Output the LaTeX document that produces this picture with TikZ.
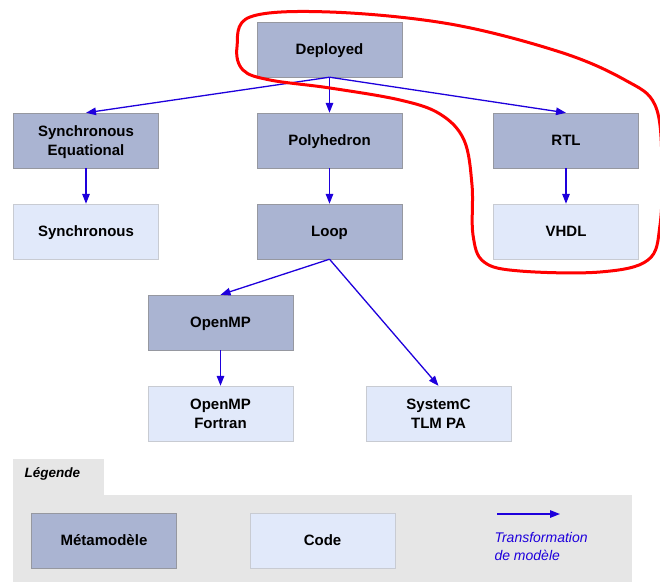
\documentclass[tikz,border=0pt]{standalone}
\usepackage{fontspec}
\setmainfont{Liberation Sans}
\usetikzlibrary{arrows.meta}
\definecolor{metafill}{RGB}{170,180,210}
\definecolor{metaline}{RGB}{150,152,160}
\definecolor{codefill}{RGB}{225,233,250}
\definecolor{codeline}{RGB}{200,203,210}
\definecolor{legendgray}{RGB}{230,230,230}
\definecolor{tblue}{RGB}{30,0,220}

\tikzset{
  meta/.style={draw=metaline, fill=metafill, minimum width=145pt, minimum height=55pt,
    align=center, font=\fontsize{15}{19}\selectfont\bfseries, inner sep=0pt,
    text height=10.8pt, text depth=0pt},
  code/.style={meta, draw=codeline, fill=codefill},
  twolines/.style={text height=29.8pt, text depth=0pt},
  trans/.style={tblue, line width=1.3pt, -{Triangle[length=10pt,width=7.5pt]}}
}

\begin{document}
\begin{tikzpicture}[x=1pt, y=-1pt]
  \useasboundingbox (0,0) rectangle (660,582);
  % Legend background
  \fill[legendgray] (13,459) rectangle (104,496);
  \fill[legendgray] (13,495) rectangle (632,582);
  \node[anchor=west, font=\fontsize{13.5}{16}\selectfont\bfseries\itshape] (leg) at (21,474) {Légende};
  % Metamodels and code
  \node[meta] (dep)  at (329.5,49.5)  {Deployed};
  \node[meta, twolines] (seq) at (86,140.5) {Synchronous\\Equational};
  \node[meta] (poly) at (329.5,140.5) {Polyhedron};
  \node[meta] (rtl)  at (566,140.5)   {RTL};
  \node[code] (sync) at (86,231.5)    {Synchronous};
  \node[meta] (loop) at (329.5,231.5) {Loop};
  \node[code] (vhdl) at (566,231.5)   {VHDL};
  \node[meta] (omp)  at (220.5,322.5) {OpenMP};
  \node[code, twolines] (fort) at (220.5,413.5) {OpenMP\\Fortran};
  \node[code, twolines] (sysc) at (438.5,413.5) {SystemC\\TLM PA};
  % Transformations
  \draw[trans] (dep.south) -- (seq.north);
  \draw[trans] (dep.south) -- (poly.north);
  \draw[trans] (dep.south) -- (rtl.north);
  \draw[trans] (seq) -- (sync);
  \draw[trans] (poly) -- (loop);
  \draw[trans] (rtl) -- (vhdl);
  \draw[trans] (loop.south) -- (omp.north);
  \draw[trans] (loop.south) -- (sysc.north);
  \draw[trans] (omp) -- (fort);
  % Legend entries
  \node[meta] (lmeta) at (104,540.5) {Métamodèle};
  \node[code] (lcode) at (322.5,540.5) {Code};
  \coordinate (la) at (497,514);
  \coordinate (lb) at (560,514);
  \draw[trans] (la) -- (lb);
  \node[anchor=west, align=left, tblue, font=\fontsize{14}{18}\selectfont\itshape] (ltr) at (491,546)
    {Transformation\\de modèle};
  % Red outline
  \draw[red, line width=3pt] plot[smooth cycle, tension=0.6] coordinates {
    (250,17) (330,12) (450,24) (560,52) (625,80) (655,105) (662,160) (660,225)
    (648,260) (600,272) (520,271) (484,262) (473,235) (472,185) (464,140)
    (440,114) (400,100) (330,88) (270,80) (243,70) (237,47)};
\end{tikzpicture}
\end{document}
